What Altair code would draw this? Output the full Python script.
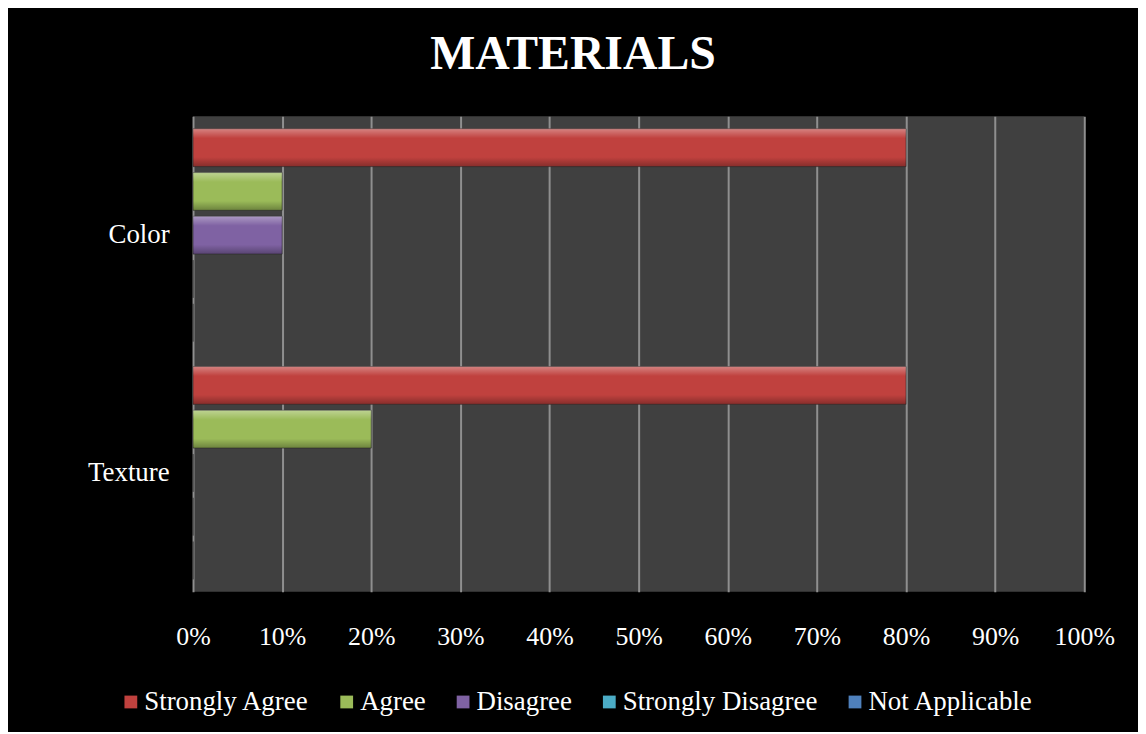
import altair as alt
import pandas as pd

categories = ["Color", "Texture"]
responses = ["Strongly Agree", "Agree", "Disagree", "Strongly Disagree", "Not Applicable"]
colors = ["#C0413E", "#9BBB59", "#7F62A3", "#4BACC6", "#4F81BD"]
color_values = [0.80, 0.10, 0.10, 0.0, 0.0]
texture_values = [0.80, 0.20, 0.0, 0.0, 0.0]
x_ticks = [0, 0.1, 0.2, 0.3, 0.4, 0.5, 0.6, 0.7, 0.8, 0.9, 1.0]

rows = []
for cat, vals in zip(categories, [color_values, texture_values]):
    for r, v in zip(responses, vals):
        rows.append({"Category": cat, "Response": r, "Value": v})
df = pd.DataFrame(rows)

FONT = "Liberation Serif"

y_enc = alt.Y("Category:N", sort=categories, title=None,
              scale=alt.Scale(paddingInner=0, paddingOuter=0),
              axis=alt.Axis(labelFont=FONT, labelFontSize=27, labelColor="white",
                            ticks=False, domain=False, labelPadding=24, grid=False))
yoff = alt.YOffset("Response:N", sort=responses,
                   scale=alt.Scale(domain=responses, paddingInner=0.136, paddingOuter=0.285))
x_enc = alt.X("Value:Q", title=None,
              scale=alt.Scale(domain=[0, 1], nice=False),
              axis=alt.Axis(values=x_ticks, format=".0%", labelFont=FONT, labelFontSize=26,
                            labelColor="white", ticks=False, domain=False, labelPadding=32,
                            labelFlush=False,
                            grid=True, gridColor="#8f8f8f", gridWidth=2))

base = alt.Chart(df)

bars = base.mark_bar(stroke="#2a2a2a", strokeWidth=1, strokeOpacity=0.6).encode(
    x=x_enc,
    y=y_enc,
    yOffset=yoff,
    color=alt.Color("Response:N",
                    scale=alt.Scale(domain=responses, range=colors),
                    legend=alt.Legend(orient="none", legendX=-76, legendY=575,
                                      direction="horizontal", columns=5, title=None,
                                      padding=0,
                                      labelFont=FONT, labelFontSize=27, labelColor="white",
                                      symbolType="square", symbolSize=165,
                                      symbolStrokeWidth=0, columnPadding=24,
                                      labelOffset=0, labelLimit=400)),
)

shine = base.mark_bar(
    fill={"x1": 0, "y1": 0, "x2": 0, "y2": 1, "gradient": "linear",
          "stops": [{"offset": 0, "color": "rgba(255,255,255,0.35)"},
                    {"offset": 0.25, "color": "rgba(255,255,255,0.0)"},
                    {"offset": 0.75, "color": "rgba(0,0,0,0.0)"},
                    {"offset": 1, "color": "rgba(0,0,0,0.3)"}]}
).encode(x="Value:Q", y=alt.Y("Category:N", sort=categories), yOffset=yoff)

chart = alt.layer(bars, shine).properties(
    width=896, height=478,
    autosize=alt.AutoSizeParams(type="none"),
    padding={"left": 186, "top": 107, "right": 54, "bottom": 139},
    background="black",
    title=alt.TitleParams("MATERIALS", font=FONT, fontSize=48, fontWeight="bold",
                          color="white", anchor="middle", dx=-66, offset=0,
                          baseline="alphabetic"),
).configure_view(fill="#404040", stroke=None)

chart.save("out.html", embed_options={"renderer": "svg", "actions": False})
